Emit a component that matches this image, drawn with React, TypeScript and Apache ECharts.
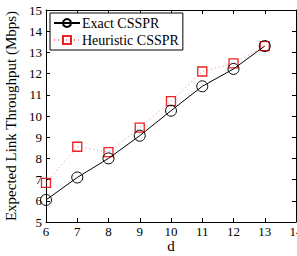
import React, { useEffect, useRef } from "react";
import * as echarts from "echarts";

const dValues = [6, 7, 8, 9, 10, 11, 12, 13];
const exactCsspr = [6.04, 7.1, 8.0, 9.07, 10.25, 11.4, 12.22, 13.3];
const heuristicCsspr = [6.85, 8.55, 8.3, 9.45, 10.7, 12.1, 12.48, 13.3];
const seriesNames = ["Exact CSSPR", "Heuristic CSSPR"];
const xAxisName = "d";

const FONT = "Liberation Serif";

export default function App() {
  const ref = useRef<HTMLDivElement>(null);
  useEffect(() => {
    document.body.style.margin = "0";
    const chart = echarts.init(ref.current!, null, { renderer: "svg" });
    const axisLine = { show: true, lineStyle: { color: "#000", width: 1 } };
    const tick = { show: true, inside: true, length: 4, lineStyle: { color: "#000" } };
    chart.setOption({
      animation: false,
      backgroundColor: "#fff",
      grid: { left: 46, top: 10, right: 1, bottom: 34, containLabel: false, outerBoundsMode: "none" },
      legend: {
        orient: "vertical",
        left: 50,
        top: 13,
        backgroundColor: "#fff",
        borderColor: "#000",
        borderWidth: 1,
        borderRadius: 0,
        padding: [3, 4, 3, 3],
        itemGap: 3,
        itemWidth: 26,
        itemHeight: 10,
        textStyle: { fontFamily: FONT, fontSize: 14, color: "#000", padding: [0, 0, 0, -3] },
        data: seriesNames,
      },
      graphic: [
        {
          type: "text",
          x: 171,
          y: 246,
          style: {
            text: xAxisName,
            fontFamily: FONT,
            fontSize: 15,
            fill: "#000",
            align: "center",
            verticalAlign: "middle",
          },
        },
      ],
      xAxis: [
        {
          type: "value",
          min: 6,
          max: 14,
          interval: 1,
          axisLine,
          axisTick: tick,
          splitLine: { show: false },
          axisLabel: { fontFamily: FONT, fontSize: 13, color: "#000", margin: 3 },
        },
        {
          type: "value",
          position: "top",
          min: 6,
          max: 14,
          interval: 1,
          axisLine,
          axisTick: tick,
          splitLine: { show: false },
          axisLabel: { show: false },
        },
      ],
      yAxis: [
        {
          type: "value",
          min: 5,
          max: 15,
          interval: 1,
          name: "Expected Link Throughput (Mbps)",
          nameLocation: "middle",
          nameGap: 21,
          nameTextStyle: { fontFamily: FONT, fontSize: 15, color: "#000" },
          axisLine,
          axisTick: tick,
          splitLine: { show: false },
          axisLabel: { fontFamily: FONT, fontSize: 13, color: "#000", margin: 4 },
        },
        {
          type: "value",
          position: "right",
          min: 5,
          max: 15,
          interval: 1,
          axisLine,
          axisTick: tick,
          splitLine: { show: false },
          axisLabel: { show: false },
        },
      ],
      series: [
        {
          name: seriesNames[0],
          type: "line",
          data: dValues.map((d, i) => [d, exactCsspr[i]]),
          symbol: "circle",
          symbolSize: 11,
          lineStyle: { color: "#000", width: 1 },
          itemStyle: { color: "transparent", borderColor: "#000", borderWidth: 1 },
          z: 3,
        },
        {
          name: seriesNames[1],
          type: "line",
          data: dValues.map((d, i) => [d, heuristicCsspr[i]]),
          symbol: "rect",
          symbolSize: 9,
          lineStyle: { color: "#ff7f8a", width: 1, type: [1, 3] },
          itemStyle: { color: "transparent", borderColor: "#ee2222", borderWidth: 1.3 },
          z: 2,
        },
      ],
    });
    return () => chart.dispose();
  }, []);
  return <div ref={ref} style={{ width: 297, height: 256 }} />;
}
